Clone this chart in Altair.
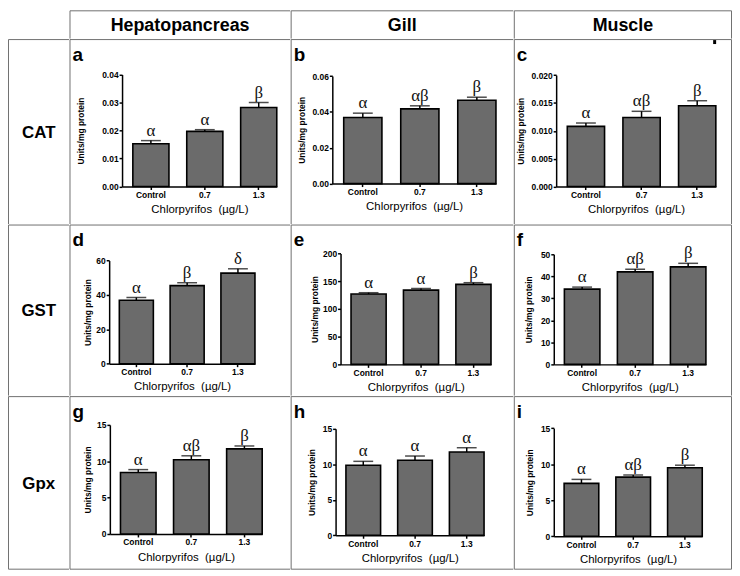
import altair as alt
import pandas as pd

# ---------------- data ----------------
doses = ["Control", "0.7", "1.3"]
tissues = ["Hepatopancreas", "Gill", "Muscle"]
enzymes = ["CAT", "GST", "Gpx"]

mean_a = [0.0153, 0.0197, 0.0282]
sem_a = [0.0011, 0.0006, 0.0018]
sig_a = ["α", "α", "β"]

mean_b = [0.0369, 0.0417, 0.0465]
sem_b = [0.0024, 0.0017, 0.0017]
sig_b = ["α", "αβ", "β"]

mean_c = [0.0108, 0.0124, 0.0145]
sem_c = [0.0006, 0.0011, 0.0009]
sig_c = ["α", "αβ", "β"]

mean_d = [36.9, 45.4, 52.7]
sem_d = [1.6, 1.7, 2.5]
sig_d = ["α", "β", "δ"]

mean_e = [127.0, 134.0, 144.5]
sem_e = [2.4, 3.0, 3.0]
sig_e = ["α", "α", "β"]

mean_f = [34.2, 42.0, 44.3]
sem_f = [0.9, 1.2, 1.6]
sig_f = ["α", "αβ", "β"]

mean_g = [8.45, 10.2, 11.7]
sem_g = [0.4, 0.55, 0.4]
sig_g = ["α", "αβ", "β"]

mean_h = [9.87, 10.57, 11.74]
sem_h = [0.55, 0.6, 0.6]
sig_h = ["α", "α", "α"]

mean_i = [7.34, 8.2, 9.5]
sem_i = [0.55, 0.3, 0.36]
sig_i = ["α", "αβ", "β"]

ticks_a = [0, 0.01, 0.02, 0.03, 0.04]
ticks_b = [0, 0.02, 0.04, 0.06]
ticks_c = [0, 0.005, 0.010, 0.015, 0.020]
ticks_d = [0, 20, 40, 60]
ticks_e = [0, 50, 100, 150, 200]
ticks_f = [0, 10, 20, 30, 40, 50]
ticks_ghi = [0, 5, 10, 15]

x_title = "Chlorpyrifos\u00a0 (µg/L)"
y_title = "Units/mg protein"

# ---------------- layout (page pixels) ----------------
COLS = [(8, 70), (70, 293), (293, 518), (518, 738)]
ROWS = [(8, 37), (37, 224), (224, 397), (397, 572)]
BORDER = "#6f6f6f"
SANS = "Liberation Sans"
SERIF = "Liberation Serif"

# plot left, right, top, bottom, y-title right edge  (page pixels)
GEOM = {
    "a": (123, 279, 72.7, 185.7, 86.5),
    "b": (335, 500, 74.3, 182.7, 309),
    "c": (560.7, 721.7, 73.3, 185.7, 530),
    "d": (110, 257, 260.3, 364.3, 93.5),
    "e": (343.3, 495, 253.3, 365, 322.5),
    "f": (558.3, 711.7, 254, 365, 537.5),
    "g": (110.7, 264.3, 426, 536, 93),
    "h": (338.3, 488, 430, 537.3, 319),
    "i": (558.3, 708, 429.3, 538.3, 539),
}

dummy = pd.DataFrame({"k": [0]})


def borders(w, h, top=True, left=True, right=False, bottom=False):
    layers = []
    base = alt.Chart(dummy)
    x0, x1 = 0.5, w - 0.5
    y0, y1 = 0.5, h - 0.5
    if top:
        layers.append(base.mark_rule(color=BORDER, strokeWidth=1).encode(
            x=alt.value(x0), x2=alt.value(x1), y=alt.value(y0)))
    if bottom:
        layers.append(base.mark_rule(color=BORDER, strokeWidth=1).encode(
            x=alt.value(x0), x2=alt.value(x1), y=alt.value(y1)))
    if left:
        layers.append(base.mark_rule(color=BORDER, strokeWidth=1).encode(
            x=alt.value(x0), y=alt.value(y0), y2=alt.value(y1)))
    if right:
        layers.append(base.mark_rule(color=BORDER, strokeWidth=1).encode(
            x=alt.value(x1), y=alt.value(y0), y2=alt.value(y1)))
    layers.append(base.mark_rect(opacity=0).encode(
        x=alt.value(0), x2=alt.value(w), y=alt.value(0), y2=alt.value(h)))
    return layers


def text_cell(label, col, row, top=True, left=True, right=False, bottom=False, size=18):
    cl, cr = COLS[col]
    ct, cb = ROWS[row]
    w, h = cr - cl, cb - ct
    layers = borders(w, h, top, left, right, bottom)
    if label:
        layers.append(alt.Chart(dummy).mark_text(
            font=SANS, fontSize=size, fontWeight="bold", color="#000",
            align="center", baseline="middle").encode(
            x=alt.value(w / 2), y=alt.value(h / 2 + 1), text=alt.value(label)))
    return alt.layer(*layers).properties(width=w, height=h)


def panel(letter, means, sems, sig, ticks, fmt, col, row, extra=None):
    pl, pr, pt, pb, ytr = GEOM[letter]
    cl, cr = COLS[col]
    ct, cb = ROWS[row]
    w, h = cr - cl, cb - ct
    xl, xr = pl - cl, pr - cl
    yt, yb = pt - ct, pb - ct
    df = pd.DataFrame({
        "dose": doses,
        "mean": means,
        "top": [m + s for m, s in zip(means, sems)],
        "sig": sig,
    })
    xscale = alt.Scale(range=[xl, xr], paddingInner=0.33, paddingOuter=0.1, align=1)
    xaxis = alt.Axis(labelAngle=0, tickSize=3, labelPadding=1, titlePadding=5,
                     offset=yb - h)
    yscale = alt.Scale(domain=[ticks[0], ticks[-1]], range=[yb, yt], nice=False, zero=True)
    yaxis = alt.Axis(values=ticks, format=fmt, tickSize=3, labelPadding=1,
                     offset=-xl, titleX=ytr - pl)

    def X():
        return alt.X("dose:N", sort=doses, scale=xscale, title=x_title, axis=xaxis)

    def Y(field):
        return alt.Y(field, scale=yscale, title=y_title, axis=yaxis)

    base = alt.Chart(df)
    bars = base.mark_bar(color="#6b6b6b", stroke="#000", strokeWidth=1.6).encode(
        x=X(), y=Y("mean:Q"))
    err = base.mark_rule(color="#000", strokeWidth=1.5).encode(
        x=X(), y=Y("mean:Q"), y2="top:Q")
    cap = base.mark_tick(color="#000", size=20, thickness=1.5).encode(
        x=X(), y=Y("top:Q"))
    lab = base.mark_text(font=SERIF, fontSize=17, color="#111",
                         baseline="alphabetic", dy=-5).encode(
        x=X(), y=Y("top:Q"), text="sig:N")
    deco = borders(w, h, top=True, left=True, right=(col == 3), bottom=(row == 3))
    letter_mark = alt.Chart(dummy).mark_text(
        font=SANS, fontSize=19, fontWeight="bold", color="#000",
        align="left", baseline="top").encode(
        x=alt.value(3), y=alt.value(7), text=alt.value(letter))
    layers = [bars, err, cap, lab, letter_mark] + deco
    if extra is not None:
        layers.append(extra(cl, ct))
    return alt.layer(*layers).properties(width=w, height=h)


def speck(cl, ct):
    # small black mark near the top-right corner of the CAT / Muscle cell
    return alt.Chart(dummy).mark_rect(color="#000").encode(
        x=alt.value(719 - cl), x2=alt.value(722 - cl),
        y=alt.value(38 - ct), y2=alt.value(42 - ct))


header = alt.hconcat(
    text_cell("", 0, 0, top=False, left=False),
    text_cell(tissues[0], 1, 0),
    text_cell(tissues[1], 2, 0),
    text_cell(tissues[2], 3, 0, right=True),
    spacing=0,
)
row1 = alt.hconcat(
    text_cell(enzymes[0], 0, 1, size=17),
    panel("a", mean_a, sem_a, sig_a, ticks_a, ".2f", 1, 1),
    panel("b", mean_b, sem_b, sig_b, ticks_b, ".2f", 2, 1),
    panel("c", mean_c, sem_c, sig_c, ticks_c, ".3f", 3, 1, extra=speck),
    spacing=0,
)
row2 = alt.hconcat(
    text_cell(enzymes[1], 0, 2, size=17),
    panel("d", mean_d, sem_d, sig_d, ticks_d, "d", 1, 2),
    panel("e", mean_e, sem_e, sig_e, ticks_e, "d", 2, 2),
    panel("f", mean_f, sem_f, sig_f, ticks_f, "d", 3, 2),
    spacing=0,
)
row3 = alt.hconcat(
    text_cell(enzymes[2], 0, 3, size=17, bottom=True),
    panel("g", mean_g, sem_g, sig_g, ticks_ghi, "d", 1, 3),
    panel("h", mean_h, sem_h, sig_h, ticks_ghi, "d", 2, 3),
    panel("i", mean_i, sem_i, sig_i, ticks_ghi, "d", 3, 3),
    spacing=0,
)

chart = alt.vconcat(header, row1, row2, row3, spacing=0).properties(
    padding=0, background="white"
).configure_view(stroke=None).configure_axis(
    grid=False,
    domainColor="#000", domainWidth=1.5,
    tickColor="#000", tickWidth=1.5,
    labelFont=SANS, labelFontSize=8.5, labelFontWeight="bold", labelColor="#000",
    titleFont=SANS, titleColor="#000",
).configure_axisX(
    titleFontSize=11.5, titleFontWeight="normal", labelFontSize=8.5,
).configure_axisY(
    titleFontSize=8.5, titleFontWeight="bold",
)

chart.save("out.html", embed_options={"renderer": "svg", "actions": False})
